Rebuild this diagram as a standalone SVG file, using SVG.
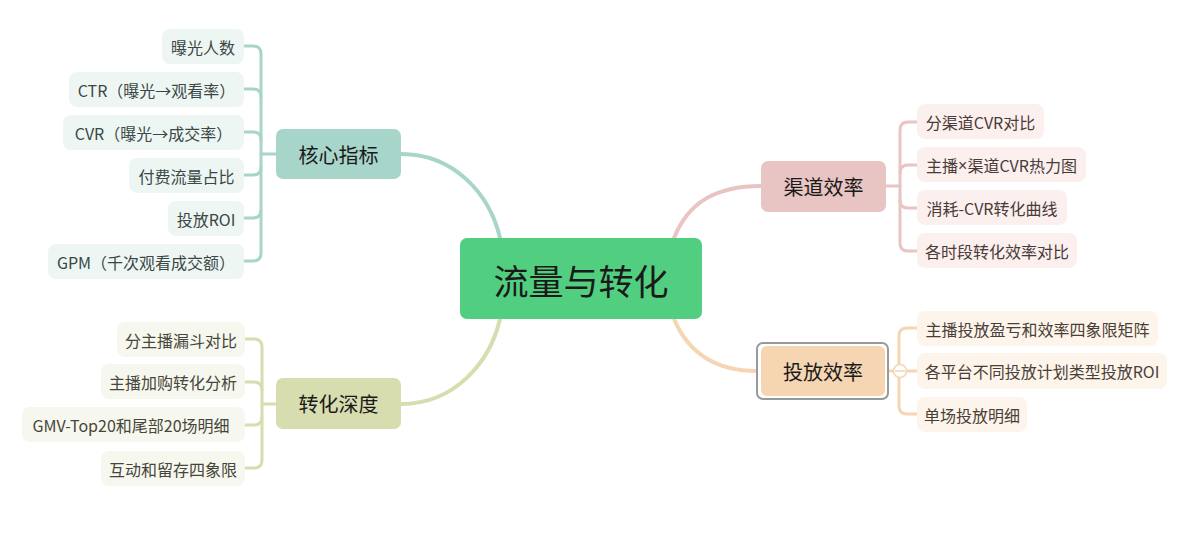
<svg xmlns="http://www.w3.org/2000/svg" width="1200" height="536" viewBox="0 0 1200 536">
<style>
text{font-family:"Noto Sans CJK SC","Noto Sans",sans-serif;text-anchor:middle;dominant-baseline:central}
.c{font-size:16px}
.l1{font-size:20px;fill:#1a1a1a}
.root{font-size:35px;fill:#1a1a1a}
.e{fill:none;stroke-linecap:round;stroke-linejoin:round}
.tl{stroke:#A8D5CA}
.pk{stroke:#E8C4C2}
.ol{stroke:#D8DDB0}
.pc{stroke:#F5D5B2}
.nt rect{fill:#EEF6F4}.nt text{fill:#3a4744}
.np rect{fill:#FBF0EE}.np text{fill:#4a3a38}
.no rect{fill:#F6F7EE}.no text{fill:#46463a}
.nc rect{fill:#FDF4EC}.nc text{fill:#4a3f35}
.lat{font-family:"Liberation Sans",sans-serif}
</style>
<rect width="1200" height="536" fill="#fff"/>
<g id="connectors">
<path class="e tl" stroke-width="4" d="M500,238 C490,195 455,154 401,154"/>
<path class="e pk" stroke-width="4" d="M674,238 C688,203 715,186 761,186"/>
<path class="e ol" stroke-width="4" d="M500,319 C490,362 455,404 401,404"/>
<path class="e pc" stroke-width="4" d="M674,319 C688,352 715,371 757,371"/>
<g class="e tl" stroke-width="3">
<path d="M276,154 H261 V54 Q261,46 253,46 H244"/>
<path d="M261,97 Q261,89 253,89 H244"/>
<path d="M261,140 Q261,132 253,132 H244"/>
<path d="M261,154 V167 Q261,175 253,175 H244"/>
<path d="M261,167 V210 Q261,218 253,218 H244"/>
<path d="M261,210 V253 Q261,261 253,261 H244"/>
</g>
<g class="e pk" stroke-width="3">
<path d="M886,186 H900 V130 Q900,122 908,122 H917"/>
<path d="M900,173 Q900,165 908,165 H917"/>
<path d="M900,186 V200 Q900,208 908,208 H917"/>
<path d="M900,200 V243 Q900,251 908,251 H917"/>
</g>
<g class="e ol" stroke-width="3">
<path d="M276,404 H262 V347 Q262,339 254,339 H245"/>
<path d="M262,390 Q262,382 254,382 H245"/>
<path d="M262,404 V417 Q262,425 254,425 H245"/>
<path d="M262,417 V460 Q262,468 254,468 H245"/>
</g>
<g class="e pc" stroke-width="3">
<path d="M888,371 H899 V336 Q899,328 907,328 H917"/>
<path d="M899,371 H917"/>
<path d="M899,371 V406 Q899,414 907,414 H917"/>
</g>
</g>
<g id="root">
<rect x="460" y="238" width="242" height="81" rx="7" fill="#52CE80"/>
<text class="root" x="581" y="279">流量与转化</text>
</g>
<g id="n-hexin">
<rect x="276" y="129" width="125" height="50" rx="7" fill="#A8D5CA"/>
<text class="l1" x="338.5" y="154">核心指标</text>
</g>
<g id="n-qudao">
<rect x="761" y="161" width="125" height="51" rx="7" fill="#E8C4C2"/>
<text class="l1" x="823.5" y="186.5">渠道效率</text>
</g>
<g id="n-zhuanhua">
<rect x="276" y="378" width="125" height="51" rx="7" fill="#D8DDB0"/>
<text class="l1" x="338.5" y="403.5">转化深度</text>
</g>
<g id="n-toufang">
<rect x="757" y="343" width="131" height="56" rx="6" fill="#fff" stroke="#999" stroke-width="2"/>
<rect x="761" y="346" width="124" height="50" rx="6" fill="#F5D5B2"/>
<text class="l1" x="823" y="371">投放效率</text>
<circle cx="900" cy="371" r="6.5" fill="#fff" stroke="#F5D5B2" stroke-width="1.5"/>
<path d="M895,371 H905" stroke="#F5D5B2" stroke-width="1.5"/>
</g>
<g id="hexin-children" class="nt c">
<g id="h1"><rect x="162" y="29" width="82" height="35" rx="8"/><text x="203" y="46.5">曝光人数</text></g>
<g id="h2"><rect x="69" y="72" width="175" height="35" rx="8"/><text x="156.5" y="89.5">CTR（曝光→观看率）</text></g>
<g id="h3"><rect x="63" y="115" width="181" height="35" rx="8"/><text x="153.5" y="132.5">CVR（曝光→成交率）</text></g>
<g id="h4"><rect x="129" y="158" width="115" height="35" rx="8"/><text x="186.5" y="175.5">付费流量占比</text></g>
<g id="h5"><rect x="168" y="201" width="76" height="35" rx="8"/><text x="206" y="218.5">投放ROI</text></g>
<g id="h6"><rect x="48" y="244" width="196" height="35" rx="8"/><text x="146" y="261.5">GPM（千次观看成交额）</text></g>
</g>
<g id="qudao-children" class="np c">
<g id="q1"><rect x="917" y="104" width="127" height="35" rx="8"/><text x="980.5" y="121.5">分渠道CVR对比</text></g>
<g id="q2"><rect x="917" y="147" width="169" height="35" rx="8"/><text x="1001.5" y="164.5">主播<tspan class="lat">×</tspan>渠道CVR热力图</text></g>
<g id="q3"><rect x="917" y="190" width="150" height="35" rx="8"/><text x="992" y="207.5">消耗-CVR转化曲线</text></g>
<g id="q4"><rect x="917" y="233" width="160" height="35" rx="8"/><text x="997" y="250.5">各时段转化效率对比</text></g>
</g>
<g id="zhuanhua-children" class="no c">
<g id="z1"><rect x="117" y="322" width="128" height="35" rx="8"/><text x="181" y="339.5">分主播漏斗对比</text></g>
<g id="z2"><rect x="101" y="364" width="144" height="35" rx="8"/><text x="173" y="381.5">主播加购转化分析</text></g>
<g id="z3"><rect x="22" y="407" width="223" height="35" rx="8"/><text x="131" y="424.5">GMV-Top20和尾部20场明细</text></g>
<g id="z4"><rect x="101" y="451" width="144" height="35" rx="8"/><text x="173" y="468.5">互动和留存四象限</text></g>
</g>
<g id="toufang-children" class="nc c">
<g id="t1"><rect x="917" y="311" width="241" height="35" rx="8"/><text x="1037.5" y="328.5">主播投放盈亏和效率四象限矩阵</text></g>
<g id="t2"><rect x="917" y="353" width="250" height="36" rx="8"/><text x="1042" y="371">各平台不同投放计划类型投放ROI</text></g>
<g id="t3"><rect x="917" y="397" width="110" height="35" rx="8"/><text x="972" y="414.5">单场投放明细</text></g>
</g>
</svg>
